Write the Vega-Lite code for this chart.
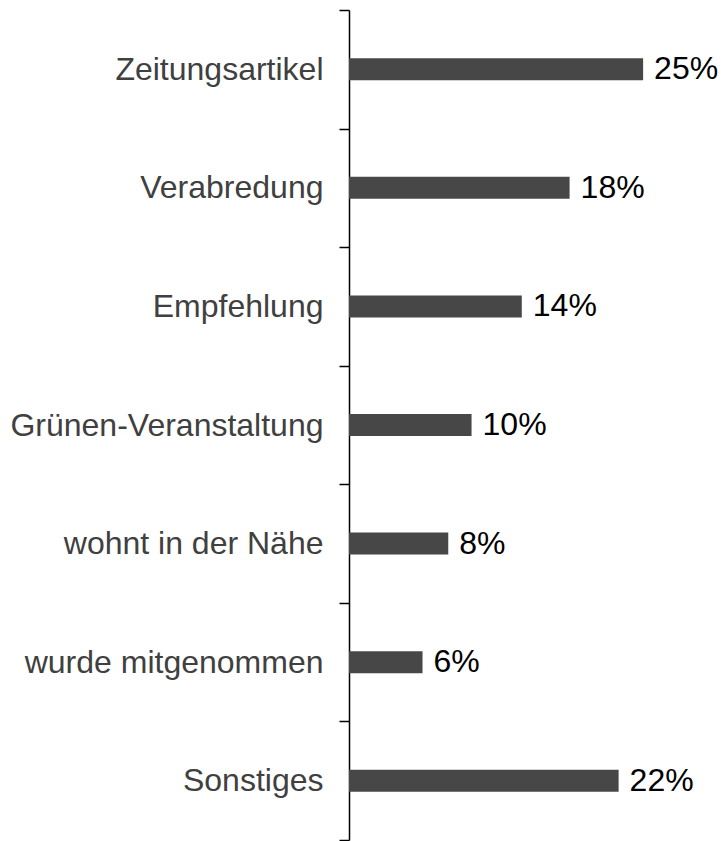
{
  "$schema": "https://vega.github.io/schema/vega-lite/v6.json",
  "autosize": "none",
  "padding": {"left": 349, "top": 10, "right": 0, "bottom": 1},
  "width": 375,
  "height": 830,
  "background": "white",
  "config": {"view": {"stroke": null}, "font": "Liberation Sans"},
  "data": {
    "values": [
      {"kategorie": "Zeitungsartikel", "anteil": 24.0, "label": "25%"},
      {"kategorie": "Verabredung", "anteil": 18.0, "label": "18%"},
      {"kategorie": "Empfehlung", "anteil": 14.1, "label": "14%"},
      {"kategorie": "Grünen-Veranstaltung", "anteil": 10.0, "label": "10%"},
      {"kategorie": "wohnt in der Nähe", "anteil": 8.1, "label": "8%"},
      {"kategorie": "wurde mitgenommen", "anteil": 6.0, "label": "6%"},
      {"kategorie": "Sonstiges", "anteil": 22.0, "label": "22%"}
    ]
  },
  "encoding": {
    "y": {
      "field": "kategorie",
      "type": "nominal",
      "sort": null,
      "scale": {"paddingInner": 0, "paddingOuter": 0},
      "axis": {
        "title": null,
        "tickBand": "extent",
        "domainColor": "black",
        "domainWidth": 1.5,
        "tickColor": "black",
        "tickWidth": 1.5,
        "tickSize": 10,
        "labelFontSize": 32,
        "labelColor": "#404040",
        "labelPadding": 16,
        "labelLimit": 0,
        "labelFont": "Liberation Sans",
        "grid": false
      }
    },
    "x": {
      "field": "anteil",
      "type": "quantitative",
      "scale": {"domain": [0, 30.6], "nice": false, "zero": true},
      "axis": null
    }
  },
  "layer": [
    {"mark": {"type": "bar", "size": 22, "color": "#474747"}},
    {
      "mark": {"type": "text", "align": "left", "baseline": "middle", "dx": 11, "fontSize": 32, "color": "black", "font": "Liberation Sans"},
      "encoding": {"text": {"field": "label"}}
    }
  ]
}
